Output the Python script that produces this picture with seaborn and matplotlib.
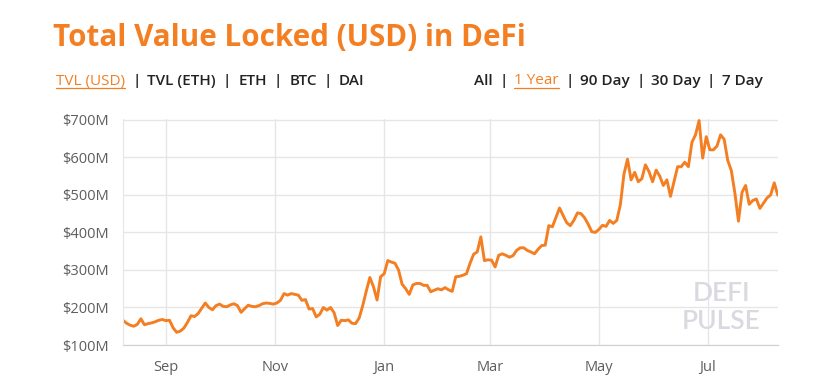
import pandas as pd
import numpy as np
import matplotlib
matplotlib.use("Agg")
import matplotlib.pyplot as plt
import matplotlib.dates as mdates
import matplotlib.ticker as mticker
import seaborn as sns

# Data: TVL in USD (millions), sampled every 2 days from 8 Aug 2018
start_date = "2018-08-08"
tvl_musd = [
    166, 158, 153, 150, 155, 170, 154, 157, 159, 162, 166, 168, 165, 166, 146, 134,
    137, 145, 160, 178, 176, 184, 198, 212, 200, 194, 205, 209, 203, 202, 207, 210,
    205, 187, 197, 206, 203, 202, 205, 210, 212, 211, 209, 212, 219, 237, 233, 237,
    235, 233, 219, 221, 196, 197, 175, 182, 200, 193, 200, 186, 152, 166, 165, 167,
    158, 157, 172, 205, 244, 280, 255, 220, 282, 290, 325, 321, 318, 300, 262, 250,
    235, 260, 264, 264, 259, 259, 242, 246, 250, 247, 253, 247, 243, 282, 283, 286,
    290, 318, 342, 348, 388, 325, 327, 326, 308, 339, 343, 339, 334, 338, 352, 359,
    359, 352, 348, 343, 355, 365, 366, 418, 415, 440, 465, 445, 426, 418, 432, 452,
    450, 439, 422, 402, 400, 408, 419, 416, 432, 424, 432, 474, 555, 595, 540, 560,
    535, 543, 580, 562, 535, 566, 550, 525, 540, 496, 535, 575, 575, 587, 575, 640,
    660, 698, 598, 655, 620, 620, 630, 660, 648, 592, 565, 505, 430, 507, 525, 475,
    485, 489, 464, 478, 492, 500, 532, 499,
]
y_ticks = [100, 200, 300, 400, 500, 600, 700]
left_menu = ["TVL (USD)", "TVL (ETH)", "ETH", "BTC", "DAI"]
right_menu = ["All", "1 Year", "90 Day", "30 Day", "7 Day"]

dates = pd.date_range(start_date, periods=len(tvl_musd), freq="2D")
df = pd.DataFrame({"date": dates, "tvl": tvl_musd})

ORANGE = "#F47E22"
DARK = "#222222"
GREY_TXT = "#5e5e5e"
GRID = "#e6e6e6"
W, H = 831, 389

sns.set_style("white")
plt.rcParams["font.family"] = ["Open Sans", "DejaVu Sans"]

fig = plt.figure(figsize=(W / 100, H / 100), dpi=100)
ax = fig.add_axes([0.148, 0.113, 0.788, 0.581])

sns.lineplot(data=df, x="date", y="tvl", ax=ax, color=ORANGE, linewidth=2.1)

ax.set_xlim(df["date"].iloc[0], df["date"].iloc[-1])
ax.set_ylim(100, 702)
ax.set_yticks(y_ticks)
ax.yaxis.set_major_formatter(mticker.FuncFormatter(lambda v, p: f"${v:.0f}M"))
ax.xaxis.set_major_locator(mdates.MonthLocator(bymonth=[1, 3, 5, 7, 9, 11]))
ax.xaxis.set_major_formatter(mdates.DateFormatter("%b"))
ax.set_xlabel("")
ax.set_ylabel("")

ax.grid(True, color=GRID, linewidth=1)
for s in ["top", "right"]:
    ax.spines[s].set_visible(False)
ax.spines["left"].set_color(GRID)
ax.spines["bottom"].set_color("#cfcfcf")
ax.tick_params(axis="both", colors=GRID, labelcolor=GREY_TXT, labelsize=10.5,
               length=8, width=1)
ax.tick_params(axis="y", pad=2)
ax.tick_params(axis="x", pad=3)

# watermark
for txt, yy in [("DEFI", 0.23), ("PULSE", 0.106)]:
    ax.text(0.914, yy, txt, transform=ax.transAxes, ha="center", va="center",
            fontsize=19, fontweight="semibold", color="#d9d9e0",
            family=["Lato", "DejaVu Sans"])

# title
fig.text(53 / W, 1 - 38 / H, "Total Value Locked (USD) in DeFi", ha="left",
         va="center", fontsize=21.3, fontweight="bold", color=ORANGE)

# menu rows
renderer = fig.canvas.get_renderer()


def menu(x_px, y_px, items, active, gap=7):
    x = x_px
    y = 1 - y_px / H
    for i, label in enumerate(items):
        if i > 0:
            x += gap
            t = fig.text(x / W, y, "|", ha="left", va="center", fontsize=11,
                         fontweight="semibold", color=DARK)
            x += t.get_window_extent(renderer).width + gap
        t = fig.text(x / W, y, label, ha="left", va="center", fontsize=11,
                     fontweight="normal" if i == active else "semibold",
                     color=ORANGE if i == active else DARK)
        bb = t.get_window_extent(renderer)
        if i == active:
            fig.add_artist(plt.Line2D([bb.x0 / W, bb.x1 / W],
                                      [(bb.y0 + 1) / H] * 2, color=ORANGE, lw=0.9))
        x += bb.width


menu(56, 81, left_menu, 0)
menu(474, 81, right_menu, 1, gap=6.5)

fig.savefig("out.png", dpi=100)
